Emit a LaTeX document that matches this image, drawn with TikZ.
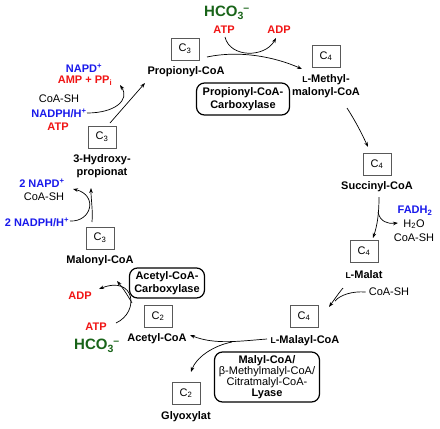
\documentclass[tikz,border=0pt]{standalone}
\usepackage{fontspec}
\setmainfont{Liberation Sans}
\usetikzlibrary{arrows.meta}
\definecolor{myred}{RGB}{240,20,20}
\definecolor{myblue}{RGB}{25,25,235}
\definecolor{mygreen}{RGB}{25,100,25}
\newcommand{\Lsc}{{\fontsize{8.5}{8.5}\selectfont L}}
\newcommand{\hcothree}{HCO\textsubscript{3}\kern-0.5pt\textsuperscript{–}}
\begin{document}
\begin{tikzpicture}[x=1pt,y=-1pt,
  every node/.style={inner sep=0pt, font=\fontsize{11}{13}\selectfont},
  lbl/.style={font=\bfseries\fontsize{11}{13.3}\selectfont, align=center},
  reg/.style={font=\fontsize{11}{13.3}\selectfont, align=center},
  redt/.style={lbl, text=myred},
  bluet/.style={lbl, text=myblue},
  greent/.style={text=mygreen, font=\bfseries\fontsize{15}{15}\selectfont},
  cbox/.style={draw=black!65, line width=0.8pt, minimum width=28pt, minimum height=22pt},
  enz/.style={draw, line width=1.2pt, rounded corners=8pt, align=center, font=\bfseries\fontsize{11}{13}\selectfont},
  arr/.style={-{Stealth[length=5pt,width=3.6pt]}, line width=0.7pt},
  ln/.style={line width=0.7pt}
]
\useasboundingbox (0,0) rectangle (440,429);
% top
\node[greent] (hco3a) at (227,13) {\hcothree};
\node[redt] (atpa) at (224,30) {ATP};
\node[redt] (adpa) at (279,30) {ADP};
\node[cbox] (c3a) at (185,49) {C\textsubscript{3}};
\node[lbl] (prop) at (186,72) {Propionyl-CoA};
\node[enz, minimum width=93pt, minimum height=32pt] (ppc) at (243,99) {Propionyl-CoA-\\Carboxylase};
\node[cbox] (c4a) at (326,56) {C\textsubscript{4}};
\node[lbl] (mmc) at (326,86.5) {\Lsc-Methyl-\\malonyl-CoA};
% right
\node[cbox] (c4b) at (377,164) {C\textsubscript{4}};
\node[lbl] (succ) at (377,187) {Succinyl-CoA};
\node[bluet] (fadh) at (415,211) {FADH\textsubscript{2}};
\node[reg] (h2o) at (414,224) {H\textsubscript{2}O};
\node[reg] (coash1) at (414,238) {CoA-SH};
\node[cbox] (c4c) at (364,251) {C\textsubscript{4}};
\node[lbl] (malat) at (364,275) {\Lsc-Malat};
\node[reg] (coash2) at (389,292) {CoA-SH};
\node[cbox] (c4d) at (304,316) {C\textsubscript{4}};
\node[lbl] (malayl) at (305,341) {\Lsc-Malayl-CoA};
\node[enz, minimum width=105pt, minimum height=50pt, font=\bfseries\fontsize{11}{11}\selectfont] (lyase) at (267,377)
  {Malyl-CoA/\\{\mdseries β-Methylmalyl-CoA/}\\{\mdseries Citratmalyl-CoA-}\\Lyase};
% bottom left
\node[cbox] (c2a) at (158,316) {C\textsubscript{2}};
\node[lbl] (acetyl) at (157,339) {Acetyl-CoA};
\node[enz, minimum width=75pt, minimum height=30pt] (acc) at (167,283) {Acetyl-CoA-\\Carboxylase};
\node[cbox] (c2b) at (186,393) {C\textsubscript{2}};
\node[lbl] (glyox) at (186,417) {Glyoxylat};
\node[cbox] (c3b) at (100,238) {C\textsubscript{3}};
\node[lbl] (malonyl) at (100,261) {Malonyl-CoA};
\node[redt] (atpb) at (96,327) {ATP};
\node[greent] (hco3b) at (97,346) {\hcothree};
\node[redt] (adpb) at (80,296) {ADP};
% left
\node[cbox] (c3c) at (102,137) {C\textsubscript{3}};
\node[lbl] (hp) at (102,166.5) {3-Hydroxy-\\propionat};
\node[bluet] (napd2) at (42,183) {2 NAPD\textsuperscript{+}};
\node[reg] (coash3) at (44,197) {CoA-SH};
\node[bluet] (nadph2) at (37,222) {2 NADPH/H\textsuperscript{+}};
\node[bluet] (napd1) at (84,68) {NAPD\textsuperscript{+}};
\node[redt] (amp) at (85,81) {AMP + PP\textsubscript{i}};
\node[reg] (coash4) at (59,99) {CoA-SH};
\node[bluet] (nadph1) at (59,113) {NADPH/H\textsuperscript{+}};
\node[redt] (atp1) at (58,127) {ATP};
% coordinates
\coordinate (p1s) at (110,123); \coordinate (p1e) at (145,83);
\coordinate (s1e) at (120,85);
\coordinate (p2s) at (207,57); \coordinate (p2e) at (302,69);
\coordinate (s2s) at (225,37); \coordinate (s2e) at (276,38);
\coordinate (p3s) at (347,108); \coordinate (p3e) at (368,147);
\coordinate (p4s) at (379,197); \coordinate (p4e) at (373,238);
\coordinate (s4s) at (378,212); \coordinate (s4e) at (398,223);
\coordinate (p5s) at (343,288); \coordinate (p5e) at (329,307); \coordinate (s5e) at (335,301);
\coordinate (p6s) at (267,339); \coordinate (p6e) at (190,335);
\coordinate (b6s) at (232,342); \coordinate (b6e) at (191,372);
\coordinate (p7s) at (132,303); \coordinate (p7e) at (117,281);
\coordinate (s7s) at (116,323); \coordinate (s7e) at (99,289);
\coordinate (p8s) at (92,222); \coordinate (p8e) at (91,188);
\coordinate (s8s) at (70,221); \coordinate (s8e) at (73,189);
\coordinate (s1s) at (87,113);
% connectors
\draw[arr] (p1s) -- (p1e);
\draw[arr] (s1s) .. controls (115,113) and (130,100) .. (s1e);
\draw[arr] (p2s) .. controls (240,50) and (275,57) .. (p2e);
\draw[arr] (s2s) .. controls (230,58) and (265,58) .. (s2e);
\draw[arr] (p3s) .. controls (356,122) and (362,134) .. (p3e);
\draw[arr] (p4s) .. controls (379,215) and (377,226) .. (p4e);
\draw[arr] (s4s) .. controls (380,222) and (388,224) .. (s4e);
\draw[arr] (p5s) .. controls (338,294) and (334,300) .. (p5e);
\draw[ln] ([xshift=-3pt]coash2.west) .. controls (352,291) and (340,295) .. (s5e);
\draw[arr] (p6s) .. controls (240,341) and (215,345) .. (p6e);
\draw[arr] (b6s) .. controls (212,346) and (196,358) .. (b6e);
\draw[arr] (p7s) .. controls (127,294) and (122,287) .. (p7e);
\draw[arr] (s7s) .. controls (140,312) and (135,275) .. (s7e);
\draw[arr] (p8s) .. controls (93,210) and (91,200) .. (p8e);
\draw[arr] (s8s) .. controls (92,222) and (98,195) .. (s8e);
\end{tikzpicture}
\end{document}
